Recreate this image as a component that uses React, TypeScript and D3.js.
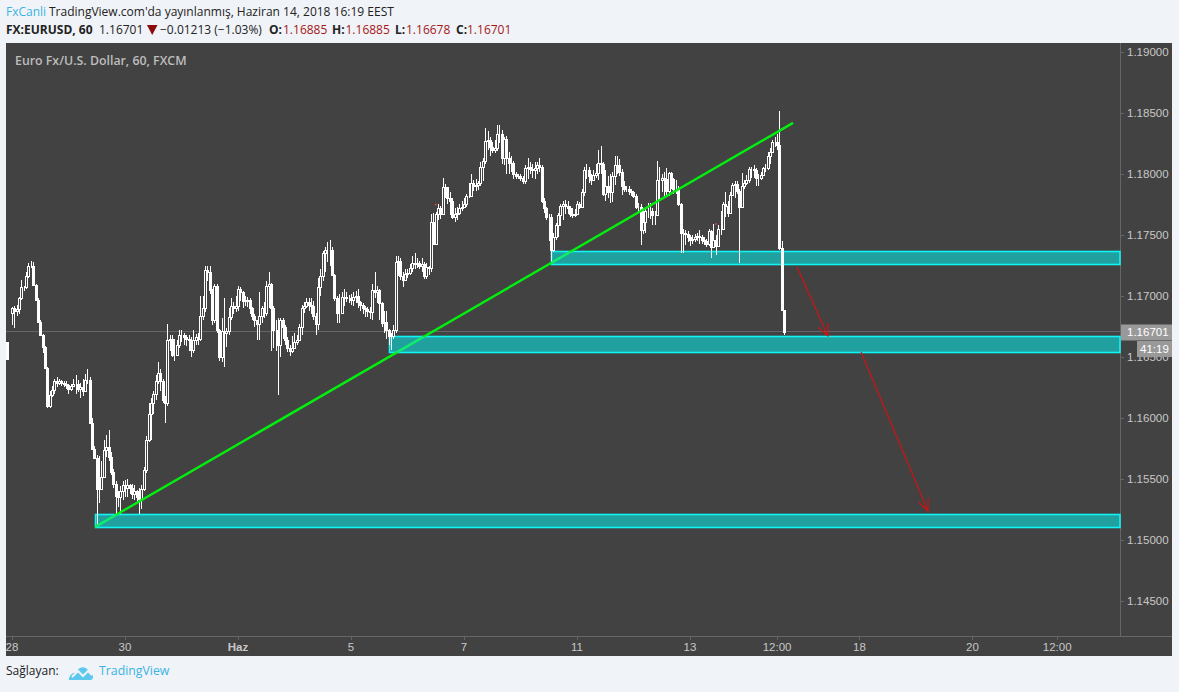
import React from "react";
import * as d3 from "d3";

// All prices are in pips: price = 1 + pips / 10000
const stubOpen = 1662, stubClose = 1648, firstOpen = 1686;
const closePips = [
1690,1688,1689,1698,1707,1707,1716,1725,1725,1709,
1697,1679,1668,1658,1641,1610,1619,1623,1630,1629,
1630,1629,1628,1627,1624,1626,1628,1628,1624,1625,
1622,1631,1631,1596,1575,1567,1542,1542,1552,1574,
1576,1568,1556,1546,1536,1535,1540,1545,1543,1545,
1543,1538,1540,1535,1534,1542,1557,1582,1603,1612,
1620,1630,1637,1630,1615,1612,1664,1665,1652,1652,
1660,1668,1668,1666,1665,1664,1656,1664,1666,1665,
1684,1690,1721,1720,1705,1680,1708,1672,1650,1671,
1670,1671,1683,1692,1690,1692,1706,1703,1696,1696,
1697,1690,1684,1680,1677,1684,1690,1686,1708,1710,
1690,1672,1672,1660,1680,1675,1664,1657,1655,1657,
1662,1664,1675,1690,1692,1695,1693,1692,1684,1677,
1707,1716,1735,1738,1738,1738,1717,1698,1686,1686,
1699,1699,1698,1698,1697,1699,1700,1695,1693,1690,
1689,1688,1687,1705,1703,1705,1694,1678,1679,1672,
1667,1667,1672,1728,1729,1716,1713,1718,1719,1723,
1727,1726,1727,1725,1726,1716,1724,1723,1761,1743,
1767,1772,1767,1789,1789,1780,1778,1765,1767,1768,
1772,1773,1775,1782,1782,1793,1790,1791,1793,1806,
1811,1827,1828,1822,1820,1821,1833,1833,1813,1829,
1813,1809,1809,1800,1798,1798,1797,1794,1805,1806,
1804,1803,1805,1807,1806,1778,1772,1765,1765,1738,
1748,1758,1766,1774,1775,1774,1772,1767,1766,1767,
1775,1773,1785,1803,1803,1798,1795,1799,1801,1809,
1808,1784,1790,1785,1785,1798,1807,1807,1802,1790,
1788,1788,1786,1785,1782,1773,1773,1754,1761,1770,
1770,1770,1766,1766,1795,1795,1797,1796,1786,1801,
1796,1788,1788,1775,1752,1752,1751,1748,1746,1747,
1748,1749,1748,1746,1745,1743,1753,1740,1746,1741,
1755,1755,1775,1774,1768,1783,1791,1792,1786,1773,
1790,1793,1795,1804,1804,1803,1797,1797,1799,1805,
1805,1815,1818,1826,1826,1824,1739,1688.5,1670.1];
const highPips = [
1691,1692,1693,1699,1713,1708,1720,1727,1729,1728,
1710,1698,1680,1669,1659,1642,1622,1626,1632,1634,
1632,1631,1630,1630,1628,1628,1632,1635,1631,1629,
1632,1636,1640,1634,1600,1577,1570,1569,1565,1582,
1586,1590,1572,1558,1548,1540,1544,1548,1549,1550,
1546,1546,1545,1541,1543,1545,1560,1585,1612,1616,
1622,1635,1646,1640,1632,1618,1677,1668,1668,1665,
1664,1672,1672,1670,1668,1668,1666,1672,1669,1670,
1700,1700,1725,1725,1725,1706,1710,1710,1673,1682,
1698,1674,1690,1698,1695,1700,1708,1707,1704,1700,
1699,1698,1691,1685,1680,1703,1692,1695,1712,1720,
1711,1692,1680,1682,1682,1682,1676,1666,1660,1667,
1670,1668,1677,1693,1695,1698,1698,1698,1696,1686,
1715,1722,1737,1740,1744,1746,1740,1718,1700,1702,
1703,1706,1703,1701,1702,1703,1704,1706,1696,1694,
1692,1691,1691,1710,1720,1708,1706,1695,1688,1688,
1673,1670,1676,1733,1733,1731,1720,1722,1722,1726,
1733,1735,1731,1729,1731,1728,1727,1725,1767,1768,
1769,1775,1774,1797,1792,1789,1785,1780,1772,1773,
1775,1778,1780,1784,1793,1800,1795,1796,1794,1810,
1813,1838,1835,1830,1826,1828,1840,1840,1836,1830,
1831,1818,1815,1811,1802,1800,1800,1798,1807,1813,
1810,1808,1810,1810,1813,1807,1780,1773,1767,1767,
1752,1760,1768,1775,1778,1779,1778,1774,1772,1771,
1778,1777,1788,1806,1808,1806,1800,1803,1808,1820,
1823,1810,1803,1798,1800,1802,1815,1815,1812,1804,
1794,1790,1790,1788,1786,1784,1776,1775,1772,1772,
1776,1776,1772,1770,1811,1806,1800,1802,1805,1802,
1802,1797,1795,1790,1776,1755,1754,1753,1750,1750,
1751,1752,1754,1750,1748,1747,1755,1754,1759,1750,
1758,1770,1777,1785,1778,1785,1793,1794,1794,1788,
1801,1795,1799,1806,1806,1807,1805,1800,1802,1806,
1808,1818,1821,1828,1830,1833,1852,1745,1688.5];
const lowPips = [
1676,1674,1684,1685,1697,1704,1706,1715,1723,1708,
1696,1678,1667,1653,1640,1608,1608,1617,1620,1625,
1627,1626,1625,1624,1620,1622,1625,1620,1621,1616,
1618,1621,1628,1595,1575,1566,1511,1530,1541,1552,
1568,1565,1553,1543,1520,1527,1521,1533,1535,1535,
1538,1534,1533,1530,1521,1525,1540,1555,1580,1582,
1603,1615,1628,1622,1612,1596,1610,1655,1650,1647,
1652,1657,1662,1660,1659,1655,1650,1653,1660,1660,
1663,1680,1687,1712,1702,1676,1678,1670,1647,1646,
1642,1658,1668,1680,1685,1687,1688,1696,1690,1692,
1691,1685,1680,1675,1664,1664,1678,1682,1684,1690,
1655,1657,1655,1619,1650,1665,1660,1654,1651,1653,
1657,1660,1667,1668,1686,1690,1688,1685,1680,1668,
1672,1700,1712,1720,1728,1725,1716,1696,1678,1678,
1685,1692,1695,1694,1693,1692,1694,1690,1688,1685,
1683,1683,1681,1680,1698,1694,1680,1675,1670,1665,
1660,1656,1665,1670,1716,1713,1707,1712,1715,1717,
1720,1722,1723,1722,1720,1714,1714,1717,1720,1743,
1742,1762,1763,1766,1780,1775,1766,1763,1761,1762,
1766,1770,1772,1773,1780,1781,1786,1786,1787,1790,
1794,1808,1820,1815,1817,1817,1819,1825,1808,1807,
1800,1800,1802,1796,1796,1796,1794,1792,1792,1796,
1800,1797,1796,1800,1802,1776,1768,1762,1745,1726,
1736,1746,1748,1757,1762,1767,1767,1765,1764,1765,
1766,1771,1772,1782,1796,1793,1791,1794,1797,1795,
1800,1782,1778,1780,1776,1777,1791,1800,1798,1783,
1785,1785,1783,1782,1780,1771,1768,1742,1751,1752,
1764,1763,1758,1758,1766,1779,1785,1782,1781,1782,
1788,1784,1784,1774,1735,1735,1742,1744,1741,1743,
1744,1745,1743,1743,1742,1740,1741,1731,1739,1734,
1740,1750,1755,1765,1765,1767,1782,1780,1784,1727,
1772,1788,1791,1793,1797,1797,1790,1790,1795,1798,
1802,1803,1808,1817,1822,1820,1738,1688,1667.8];

const priceTicks = [1.19, 1.185, 1.18, 1.175, 1.17, 1.165, 1.16, 1.155, 1.15, 1.145];
const timeLabels = ["28", "30", "Haz", "5", "7", "11", "13", "12:00", "18", "20", "12:00"];
const timeBars = [0, 48, 96, 144, 192, 240, 288, 325, 360, 408, 444];
const timeBold = ["Haz"];

const zoneStartBars = [35.26, 160.2, 229];
const zoneTopPips = [1521, 1667, 1737];
const zoneBottomPips = [1510.5, 1654, 1726];
const trendBars = [35.26, 331.8];
const trendPips = [1510.6, 1841.9];
const arrowBars = [[333.5, 346.6], [360.7, 389.1]];
const arrowPips = [[1723.8, 1667.2], [1654.1, 1523.7]];
const markBars = [180, 299];
const markPips = [1775, 1759];

const lastPrice = 1.16701;
const lastLabel = "1.16701";
const countdown = "41:19";
const header1 = "TradingView.com'da yayınlanmış, Haziran 14, 2018 16:19 EEST";
const title = "Euro Fx/U.S. Dollar, 60, FXCM";
const ohlcLetters = ["O:", "H:", "L:", "C:"];
const ohlcValues = ["1.16885", "1.16885", "1.16678", "1.16701"];
const ohlcLetterX = [269, 332, 395, 456];
const ohlcValueX = [283, 345.5, 406, 467];

const W = 1179, H = 692;
const L = 6, R = 1120, AR = 1172, T = 43, B = 636, AB = 656;
const BG = "#f0f3f7", PANEL = "#424242", AXT = "#c8c8c8";
const FONT = "'Open Sans', sans-serif";
const AXF = "'Liberation Sans', Arial, sans-serif";

export default function App() {
  const x = d3.scaleLinear().domain([0, 100]).range([12, 12 + 235.4]);
  const y = d3.scaleLinear().domain([1.19, 1.145]).range([52, 601]);
  const yp = (p: number) => y(1 + p / 10000);
  const arrowHead = (x0: number, y0: number, x1: number, y1: number) => {
    const a = Math.atan2(y1 - y0, x1 - x0), s = 13, w = 0.42;
    const p = (d: number) => `${x1 - s * Math.cos(a + d)},${y1 - s * Math.sin(a + d)}`;
    return `M${p(w)}L${x1},${y1}L${p(-w)}`;
  };
  const candle = (i: number, o: number, h: number, l: number, c: number) => {
    const cx = Math.round(x(i));
    const top = Math.round(yp(Math.max(o, c))), bot = Math.round(yp(Math.min(o, c)));
    const up = c >= o;
    return (
      <g key={i}>
        <rect x={cx} y={Math.round(yp(h))} width={1} height={Math.max(1, Math.round(yp(l)) - Math.round(yp(h)))} fill="#fff" />
        {up ? (
          <rect x={cx - 0.5} y={top + 0.5} width={2} height={Math.max(0, bot - top)} fill={PANEL} stroke="#fff" strokeWidth={1} />
        ) : (
          <rect x={cx - 1} y={top} width={3} height={Math.max(1, bot - top + 1)} fill="#fff" />
        )}
      </g>
    );
  };
  const zoneRect = (i: number) => {
    const xs = Math.round(x(zoneStartBars[i])) + 0.5;
    const ys = Math.round(yp(zoneTopPips[i])) + 0.5;
    return { x: xs, y: ys, width: R - xs, height: Math.round(yp(zoneBottomPips[i])) - Math.round(yp(zoneTopPips[i])) };
  };
  const trend = { x1: x(trendBars[0]), y1: yp(trendPips[0]), x2: x(trendBars[1]), y2: yp(trendPips[1]) };
  return (
    <svg width={W} height={H} style={{ position: "absolute", left: 0, top: 0, background: BG }} fontFamily={FONT}>
      <defs>
        <clipPath id="zones">
          {zoneStartBars.map((_, i) => <rect key={i} {...zoneRect(i)} />)}
        </clipPath>
      </defs>
      <text x={6} y={15.5} fontSize={12} fill="#222">
        <tspan fill="#3bb3e4">FxCanli</tspan>
        <tspan x={49}>{header1}</tspan>
      </text>
      <text y={33.5} fontSize={12} fill="#222">
        <tspan x={6} fontWeight={700}>FX:EURUSD, 60</tspan>
        <tspan x={99}>1.16701</tspan>
        <tspan x={160}>−0.01213 (−1.03%)</tspan>
        {ohlcLetters.map((s, i) => <tspan key={s} x={ohlcLetterX[i]} fontWeight={700}>{s}</tspan>)}
        {ohlcValues.map((s, i) => <tspan key={i} x={ohlcValueX[i]} fill="#a51717">{s}</tspan>)}
      </text>
      <path d="M147,25L157.5,25L152.2,35Z" fill="#8b0a0a" />

      <rect x={L} y={T} width={AR - L} height={AB - T} fill={PANEL} />
      <line x1={R + 0.5} x2={R + 0.5} y1={T} y2={B} stroke="#666" />
      <line x1={L} x2={AR} y1={B + 0.5} y2={B + 0.5} stroke="#666" />

      {priceTicks.map((t) => (
        <g key={t}>
          <line x1={R} x2={R + 4} y1={Math.round(y(t)) + 0.5} y2={Math.round(y(t)) + 0.5} stroke="#666" />
          <text x={1127} y={y(t) + 4} fontSize={11.5} fontFamily={AXF} fill={AXT}>{t.toFixed(5)}</text>
        </g>
      ))}
      {timeLabels.map((t, i) => (
        <g key={i}>
          <line x1={Math.round(x(timeBars[i])) + 0.5} x2={Math.round(x(timeBars[i])) + 0.5} y1={B} y2={B + 4} stroke="#666" />
          <text x={x(timeBars[i])} y={651} textAnchor="middle" fontSize={11.5} fontFamily={AXF}
            fontWeight={timeBold.includes(t) ? 700 : 400} fill={AXT}>{t}</text>
        </g>
      ))}

      <text x={15} y={65} fontSize={12.35} fontWeight={600} fill="#bdbdbd">{title}</text>

      <line x1={L} x2={R} y1={Math.round(y(lastPrice)) - 0.5} y2={Math.round(y(lastPrice)) - 0.5} stroke="#666" />

      {zoneStartBars.map((_, i) => (
        <rect key={i} {...zoneRect(i)} fill="#21a0a0" stroke="#10f4f4" strokeWidth={1.6} />
      ))}

      {candle(-2, stubOpen, stubOpen, stubClose, stubClose)}
      {closePips.map((c, i) => candle(i, i === 0 ? firstOpen : closePips[i - 1], highPips[i], lowPips[i], c))}

      <line {...trend} stroke="#04ee10" strokeWidth={2.4} />
      <line {...trend} stroke="#12e87c" strokeWidth={2.4} clipPath="url(#zones)" />
      {arrowBars.map((b, i) => {
        const x0 = x(b[0]), x1 = x(b[1]), y0 = yp(arrowPips[i][0]), y1 = yp(arrowPips[i][1]);
        return (
          <g key={i} fill="none" stroke="#d81010" strokeWidth={1.1}>
            <line x1={x0} y1={y0} x2={x1} y2={y1} />
            <path d={arrowHead(x0, y0, x1, y1)} />
          </g>
        );
      })}
      {markBars.map((b, i) => <circle key={i} cx={x(b)} cy={yp(markPips[i])} r={1} fill="#e04040" />)}

      <rect x={R + 1} y={y(lastPrice) - 8} width={AR - R - 1} height={16} fill="#999" />
      <text x={1127} y={y(lastPrice) + 4} fontSize={11.5} fontFamily={AXF} fill="#fff">{lastLabel}</text>
      <rect x={1137} y={341} width={AR - 1137} height={16} fill="#999" />
      <text x={1140} y={353} fontSize={11.5} fontFamily={AXF} fill="#fff">{countdown}</text>

      <text x={6} y={675} fontSize={12} fill="#222">Sağlayan:</text>
      <g>
        <path d="M69,680C69,675 73,672 76,673C78,667 84,665 88,670C90,672 93,674 93,677C93,679 92,680 90,680Z" fill="#5cc8ee" />
        <path d="M72,677L78,671L83,676L88,671L92,675" fill="none" stroke="#f0f3f7" strokeWidth={2} />
      </g>
      <text x={99} y={675} fontSize={12.3} fill="#3bb3e4">TradingView</text>
    </svg>
  );
}
